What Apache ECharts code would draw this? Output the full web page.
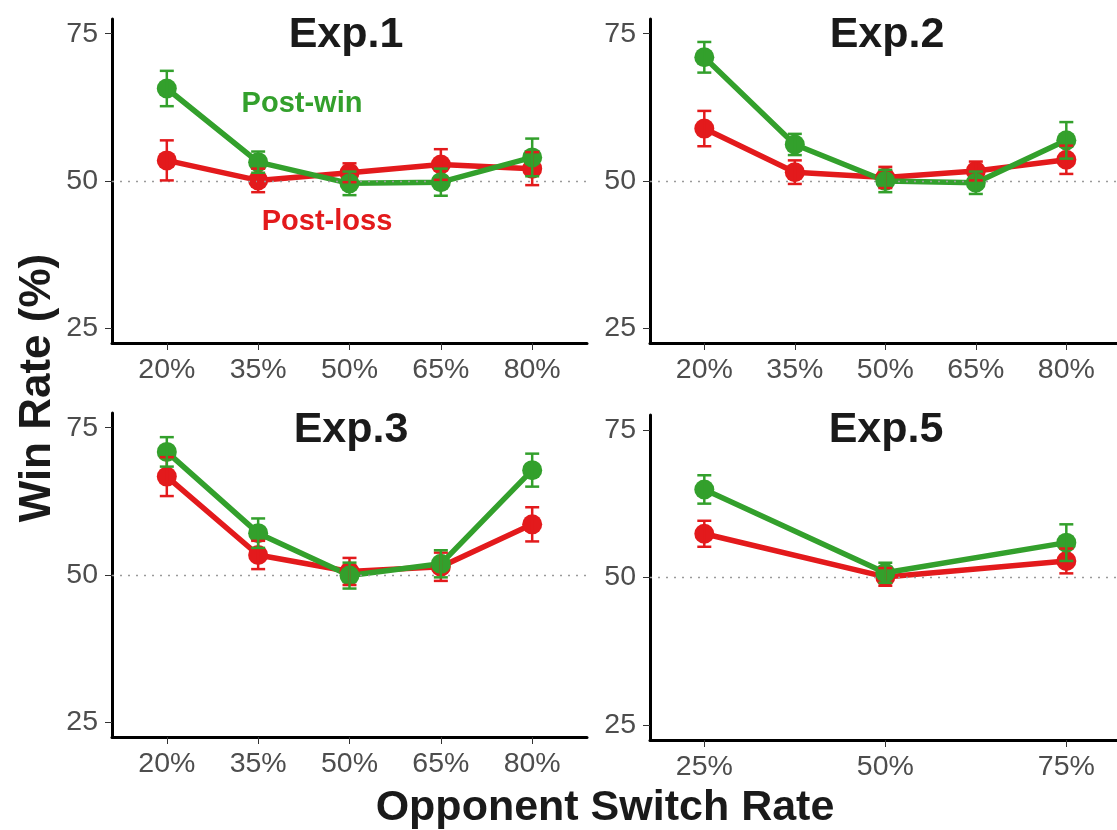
<!DOCTYPE html>
<html>
<head>
<meta charset="utf-8">
<script src="https://cdn.jsdelivr.net/npm/echarts@6/dist/echarts.min.js"></script>
<style>
html,body{margin:0;padding:0;background:#fff;}
#chart{width:1117px;height:830px;}
</style>
</head>
<body>
<div id="chart"></div>
<script>
// ---- data ----
const xCats5pt = ['20%', '35%', '50%', '65%', '80%'];
const xCats3pt = ['25%', '50%', '75%'];
const yTicks = [25, 50, 75];
const panelTitles = ['Exp.1', 'Exp.2', 'Exp.3', 'Exp.5'];

const exp1Win = [65.7, 53.2, 49.6, 49.8, 54.0];
const exp1WinSE = [3.0, 1.8, 2.0, 2.3, 3.2];
const exp1Loss = [53.5, 50.1, 51.4, 52.8, 52.1];
const exp1LossSE = [3.4, 2.0, 1.6, 2.6, 2.8];

const exp2Win = [71.0, 56.2, 50.0, 49.7, 56.9];
const exp2WinSE = [2.6, 1.8, 1.9, 1.9, 3.1];
const exp2Loss = [58.9, 51.5, 50.6, 51.7, 53.6];
const exp2LossSE = [3.0, 2.0, 1.8, 1.6, 2.4];

const exp3Win = [70.9, 57.1, 49.9, 51.9, 67.8];
const exp3WinSE = [2.5, 2.5, 2.2, 2.3, 2.8];
const exp3Loss = [66.7, 53.4, 50.6, 51.4, 58.6];
const exp3LossSE = [3.3, 2.4, 2.3, 2.4, 2.9];

const exp5Win = [64.9, 50.8, 55.9];
const exp5WinSE = [2.4, 1.7, 3.1];
const exp5Loss = [57.4, 50.1, 52.8];
const exp5LossSE = [2.2, 1.5, 2.1];

// ---- styling ----
const GREEN = '#33A02C';
const RED = '#E31A1C';
const FONT = '"Liberation Sans", Arial, Helvetica, sans-serif';

const panels = [
  {cats: xCats5pt, win: exp1Win, winSE: exp1WinSE, loss: exp1Loss, lossSE: exp1LossSE,
   grid: {left: 112, top: 19, width: 475, height: 324}, xmin: -0.6, xmax: 4.6, title: [346, 35.5]},
  {cats: xCats5pt, win: exp2Win, winSE: exp2WinSE, loss: exp2Loss, lossSE: exp2LossSE,
   grid: {left: 650, top: 19, width: 467, height: 324}, xmin: -0.6, xmax: 4.56, title: [887, 35]},
  {cats: xCats5pt, win: exp3Win, winSE: exp3WinSE, loss: exp3Loss, lossSE: exp3LossSE,
   grid: {left: 112, top: 413, width: 475, height: 324}, xmin: -0.6, xmax: 4.6, title: [351, 430]},
  {cats: xCats3pt, win: exp5Win, winSE: exp5WinSE, loss: exp5Loss, lossSE: exp5LossSE,
   grid: {left: 650, top: 415, width: 467, height: 325}, xmin: -0.3, xmax: 2.28, title: [886, 430.5]}
];

function errRender(color) {
  return function (params, api) {
    const x = api.value(0);
    const pLo = api.coord([x, api.value(1)]);
    const pHi = api.coord([x, api.value(2)]);
    const w = 7;
    const style = {stroke: color, lineWidth: 2.5, fill: null};
    return {
      type: 'group',
      children: [
        {type: 'line', shape: {x1: pLo[0], y1: pLo[1], x2: pHi[0], y2: pHi[1]}, style: style},
        {type: 'line', shape: {x1: pLo[0] - w, y1: pLo[1], x2: pLo[0] + w, y2: pLo[1]}, style: style},
        {type: 'line', shape: {x1: pHi[0] - w, y1: pHi[1], x2: pHi[0] + w, y2: pHi[1]}, style: style}
      ]
    };
  };
}

const grids = [], xAxes = [], yAxes = [], series = [], graphics = [];

panels.forEach(function (p, i) {
  grids.push(Object.assign({containLabel: false}, p.grid));
  const idx = p.cats.map(function (_, k) { return k; });
  xAxes.push({
    type: 'value', gridIndex: i, min: p.xmin, max: p.xmax,
    splitLine: {show: false},
    axisLine: {show: true, onZero: false, lineStyle: {color: '#000', width: 3}},
    axisTick: {show: true, customValues: idx, length: 7, lineStyle: {color: '#333', width: 1}},
    axisLabel: {show: true, customValues: idx, margin: 13, color: '#4D4D4D',
      fontFamily: FONT, fontSize: 28.5,
      formatter: function (v) { return p.cats[Math.round(v)]; }}
  });
  yAxes.push({
    type: 'value', gridIndex: i, min: 22.5, max: 77.5,
    splitLine: {show: false},
    axisLine: {show: true, onZero: false, lineStyle: {color: '#000', width: 3}},
    axisTick: {show: true, customValues: yTicks, length: 7, lineStyle: {color: '#333', width: 1}},
    axisLabel: {show: true, customValues: yTicks, margin: 14, color: '#4D4D4D',
      fontFamily: FONT, fontSize: 28.5}
  });

  const lossPts = p.loss.map(function (v, k) { return [k, v]; });
  const winPts = p.win.map(function (v, k) { return [k, v]; });
  const lossErr = p.loss.map(function (v, k) { return [k, v - p.lossSE[k], v + p.lossSE[k]]; });
  const winErr = p.win.map(function (v, k) { return [k, v - p.winSE[k], v + p.winSE[k]]; });

  // reference dotted line at 50
  series.push({
    type: 'line', xAxisIndex: i, yAxisIndex: i, data: [], z: 1, silent: true,
    markLine: {silent: true, symbol: 'none', label: {show: false},
      lineStyle: {color: '#9A9A9A', width: 1.3, type: [2, 6]},
      data: [{yAxis: 50}]}
  });
  series.push({type: 'line', name: 'Post-loss', xAxisIndex: i, yAxisIndex: i, data: lossPts,
    showSymbol: false, lineStyle: {color: RED, width: 5.5}, z: 2, silent: true});
  series.push({type: 'line', name: 'Post-win', xAxisIndex: i, yAxisIndex: i, data: winPts,
    showSymbol: false, lineStyle: {color: GREEN, width: 5.5}, z: 3, silent: true});
  series.push({type: 'scatter', xAxisIndex: i, yAxisIndex: i, data: lossPts,
    symbol: 'circle', symbolSize: 20, itemStyle: {color: RED, opacity: 1}, z: 4, silent: true});
  series.push({type: 'scatter', xAxisIndex: i, yAxisIndex: i, data: winPts,
    symbol: 'circle', symbolSize: 20, itemStyle: {color: GREEN, opacity: 1}, z: 5, silent: true});
  series.push({type: 'custom', xAxisIndex: i, yAxisIndex: i, data: lossErr,
    encode: {x: 0, y: [1, 2]}, renderItem: errRender(RED), z: 6, silent: true});
  series.push({type: 'custom', xAxisIndex: i, yAxisIndex: i, data: winErr,
    encode: {x: 0, y: [1, 2]}, renderItem: errRender(GREEN), z: 7, silent: true});

  graphics.push({
    type: 'text', x: p.title[0], y: p.title[1],
    style: {text: panelTitles[i], font: 'bold 43px ' + FONT, fill: '#1A1A1A',
      align: 'center', verticalAlign: 'middle'}
  });
});

graphics.push({type: 'text', x: 302, y: 104,
  style: {text: 'Post-win', font: 'bold 29px ' + FONT, fill: GREEN, align: 'center', verticalAlign: 'middle'}});
graphics.push({type: 'text', x: 327, y: 222,
  style: {text: 'Post-loss', font: 'bold 29px ' + FONT, fill: RED, align: 'center', verticalAlign: 'middle'}});
graphics.push({type: 'text', x: 605, y: 808,
  style: {text: 'Opponent Switch Rate', font: 'bold 43px ' + FONT, fill: '#1A1A1A', align: 'center', verticalAlign: 'middle'}});
graphics.push({type: 'text', x: 38, y: 388, rotation: Math.PI / 2,
  style: {text: 'Win Rate (%)', font: 'bold 44px ' + FONT, fill: '#1A1A1A', align: 'center', verticalAlign: 'middle'}});

const chart = echarts.init(document.getElementById('chart'), null, {renderer: 'canvas'});
chart.setOption({
  animation: false,
  backgroundColor: '#fff',
  grid: grids,
  xAxis: xAxes,
  yAxis: yAxes,
  series: series,
  graphic: graphics
});
</script>
</body>
</html>
